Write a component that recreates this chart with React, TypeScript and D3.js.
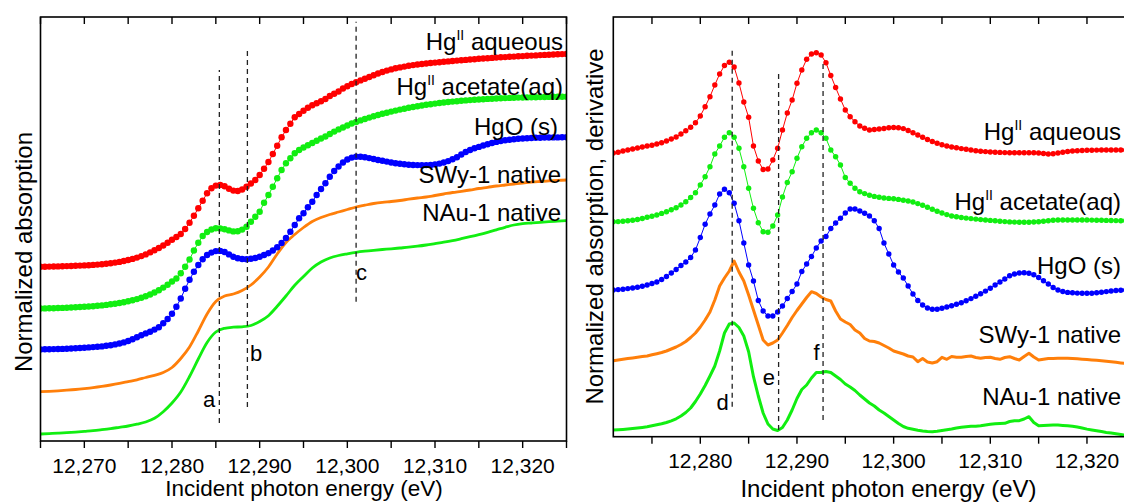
import * as d3 from "d3";

// ---- data: Hg L3-edge XANES, left = normalized absorption, right = derivative ----
// values are stacked (offset) intensities in arbitrary units, 0.5 eV steps unless noted

const LEFT_E0 = 12265;
const RIGHT_E0 = 12271;

// left panel, 0.5 eV steps from 12265 eV
const hgAqueousAbs = [
  1.742, 1.743, 1.744, 1.745, 1.746, 1.747, 1.749, 1.75, 1.752, 1.754,
  1.756, 1.758, 1.761, 1.764, 1.768, 1.773, 1.778, 1.784, 1.791, 1.8,
  1.81, 1.821, 1.834, 1.849, 1.866, 1.886, 1.907, 1.93, 1.955, 1.983,
  2.012,
  2.04, 2.07, 2.12, 2.183, 2.253, 2.327, 2.403, 2.477, 2.527, 2.554,
  2.56, 2.547, 2.522, 2.504, 2.5, 2.515, 2.542, 2.575, 2.61, 2.66,
  2.723, 2.79, 2.87, 2.953, 3.037, 3.11, 3.173, 3.237, 3.27, 3.302,
  3.332, 3.357, 3.378, 3.397, 3.42, 3.45, 3.472, 3.495, 3.525, 3.548,
  3.57, 3.588, 3.606, 3.623, 3.64, 3.658, 3.675, 3.69, 3.704, 3.716,
  3.727, 3.736, 3.744, 3.752, 3.759, 3.765, 3.77, 3.775, 3.78, 3.784,
  3.788, 3.792, 3.796, 3.8, 3.804, 3.808, 3.811, 3.815, 3.818, 3.822,
  3.825, 3.828, 3.831, 3.834, 3.837, 3.839, 3.842, 3.844, 3.847, 3.849,
  3.852, 3.854, 3.856, 3.859, 3.861, 3.863, 3.865, 3.867, 3.869, 3.871,
];
const hgAcetateAbs = [
  1.325, 1.326, 1.327, 1.328, 1.33, 1.331, 1.333, 1.335, 1.337, 1.34,
  1.342, 1.345, 1.348, 1.352, 1.356, 1.361, 1.367, 1.373, 1.38, 1.388,
  1.397, 1.407, 1.419, 1.432, 1.447, 1.465, 1.485, 1.508, 1.534, 1.563,
  1.595,
  1.625, 1.677, 1.743, 1.815, 1.905, 1.983, 2.05, 2.09, 2.115, 2.127,
  2.126, 2.118, 2.106, 2.096, 2.098, 2.114, 2.143, 2.193, 2.243, 2.293,
  2.383, 2.46, 2.543, 2.627, 2.71, 2.777, 2.827, 2.877, 2.91, 2.935,
  2.958, 2.98, 3.002, 3.025, 3.045, 3.07, 3.094, 3.116, 3.135, 3.155,
  3.175, 3.191, 3.206, 3.22, 3.234, 3.247, 3.26, 3.272, 3.283, 3.294,
  3.304, 3.314, 3.323, 3.332, 3.34, 3.348, 3.355, 3.362, 3.368, 3.374,
  3.38, 3.385, 3.39, 3.394, 3.398, 3.402, 3.406, 3.409, 3.412, 3.415,
  3.418, 3.421, 3.423, 3.425, 3.427, 3.429, 3.431, 3.433, 3.434, 3.435,
  3.436, 3.437, 3.438, 3.439, 3.44, 3.441, 3.442, 3.442, 3.443, 3.443,
];
const hgoAbs = [
  0.916, 0.917, 0.918, 0.919, 0.92, 0.921, 0.923, 0.925, 0.927, 0.93,
  0.933, 0.936, 0.939, 0.942, 0.946, 0.952, 0.958, 0.966, 0.975, 0.986,
  1.0, 1.018, 1.037, 1.057, 1.076, 1.093, 1.114, 1.138, 1.177, 1.22,
  1.272,
  1.343, 1.425, 1.522, 1.612, 1.693, 1.76, 1.817, 1.86, 1.884, 1.899,
  1.901, 1.89, 1.866, 1.843, 1.828, 1.82, 1.817, 1.822, 1.83, 1.843,
  1.86, 1.878, 1.905, 1.938, 1.98, 2.03, 2.093, 2.16, 2.227, 2.277,
  2.338, 2.393, 2.46, 2.52, 2.577, 2.643, 2.7, 2.745, 2.785, 2.815,
  2.834, 2.842, 2.843, 2.837, 2.829, 2.82, 2.81, 2.802, 2.794, 2.785,
  2.778, 2.772, 2.767, 2.763, 2.76, 2.759, 2.758, 2.759, 2.76, 2.766,
  2.774, 2.785, 2.799, 2.817, 2.838, 2.865, 2.89, 2.91, 2.927, 2.941,
  2.955, 2.968, 2.98, 2.991, 3.0, 3.007, 3.013, 3.018, 3.022, 3.025,
  3.028, 3.03, 3.032, 3.033, 3.034, 3.035, 3.036, 3.036, 3.037, 3.037,
];
// left panel clays, 1 eV steps from 12265 eV
const swyAbs = [
  0.493, 0.497, 0.502, 0.508, 0.515, 0.524, 0.534, 0.546, 0.56, 0.576,
  0.594, 0.612, 0.635, 0.657, 0.685, 0.735, 0.825, 0.94, 1.1, 1.27,
  1.395, 1.45, 1.47, 1.505, 1.56, 1.64, 1.74, 1.87, 1.985, 2.065,
  2.135, 2.195, 2.235, 2.265, 2.29, 2.315, 2.34, 2.358, 2.375, 2.387,
  2.395, 2.405, 2.418, 2.43, 2.44, 2.455, 2.47, 2.485, 2.497, 2.51,
  2.525, 2.537, 2.55, 2.56, 2.57, 2.58, 2.588, 2.595, 2.602, 2.607,
  2.61,
];
const nauAbs = [
  0.07, 0.074, 0.078, 0.083, 0.089, 0.096, 0.103, 0.113, 0.124, 0.137,
  0.15, 0.168, 0.19, 0.227, 0.293, 0.38, 0.49, 0.645, 0.82, 0.985,
  1.09, 1.127, 1.138, 1.142, 1.155, 1.195, 1.253, 1.347, 1.45, 1.557,
  1.645, 1.73, 1.79, 1.83, 1.855, 1.872, 1.887, 1.898, 1.907, 1.915,
  1.922, 1.93, 1.938, 1.948, 1.96, 1.974, 1.988, 2.004, 2.023, 2.043,
  2.064, 2.087, 2.112, 2.137, 2.16, 2.173, 2.18, 2.187, 2.193, 2.198,
  2.203,
];

// right panel (derivative), 0.5 eV steps from 12271 eV
const hgAqueousDer = [
  2.837, 2.845, 2.857, 2.867, 2.877, 2.887, 2.897, 2.907, 2.915, 2.927,
  2.94, 2.957, 2.977, 2.997, 3.027, 3.06, 3.094, 3.14, 3.207, 3.3,
  3.4, 3.517, 3.627, 3.712, 3.744, 3.697, 3.537, 3.347, 3.194, 2.907,
  2.757, 2.672, 2.677, 2.767, 2.884, 3.067, 3.237, 3.367, 3.534, 3.667,
  3.774, 3.827, 3.84, 3.817, 3.74, 3.612, 3.492, 3.377, 3.267, 3.2,
  3.15, 3.107, 3.084, 3.067, 3.072, 3.077, 3.082, 3.089, 3.092, 3.089,
  3.081, 3.062, 3.04, 3.017, 2.994, 2.972, 2.952, 2.935, 2.919, 2.907,
  2.897, 2.889, 2.881, 2.874, 2.867, 2.86, 2.855, 2.851, 2.847, 2.845,
  2.843, 2.841, 2.84, 2.84, 2.84, 2.84, 2.839, 2.839, 2.837, 2.832,
  2.827, 2.829, 2.837, 2.845, 2.852, 2.857, 2.86, 2.862, 2.864, 2.865,
  2.866, 2.867, 2.867, 2.867, 2.867, 2.867, 2.867, 2.867, 2.867,
];
const hgAcetateDer = [
  2.149, 2.151, 2.154, 2.159, 2.164, 2.172, 2.182, 2.194, 2.205, 2.217,
  2.233, 2.25, 2.269, 2.29, 2.317, 2.35, 2.392, 2.44, 2.517, 2.6,
  2.7, 2.827, 2.907, 2.994, 3.04, 2.994, 2.884, 2.7, 2.484, 2.284,
  2.14, 2.05, 2.044, 2.107, 2.217, 2.397, 2.542, 2.65, 2.784, 2.9,
  2.984, 3.04, 3.067, 3.04, 2.984, 2.867, 2.8, 2.717, 2.592, 2.534,
  2.484, 2.45, 2.431, 2.414, 2.403, 2.394, 2.387, 2.383, 2.379, 2.373,
  2.364, 2.357, 2.347, 2.331, 2.314, 2.294, 2.274, 2.254, 2.237, 2.221,
  2.207, 2.199, 2.192, 2.186, 2.181, 2.176, 2.171, 2.167, 2.163, 2.159,
  2.155, 2.151, 2.148, 2.146, 2.144, 2.144, 2.145, 2.147, 2.15, 2.154,
  2.159, 2.164, 2.167, 2.167, 2.167, 2.167, 2.167, 2.167, 2.167, 2.166,
  2.165, 2.164, 2.163, 2.162, 2.161, 2.16, 2.16, 2.159, 2.159,
];
const hgoDer = [
  1.467, 1.471, 1.475, 1.481, 1.487, 1.494, 1.505, 1.517, 1.532, 1.547,
  1.572, 1.602, 1.637, 1.672, 1.712, 1.747, 1.792, 1.867, 1.992, 2.124,
  2.227, 2.317, 2.427, 2.474, 2.44, 2.334, 2.16, 1.937, 1.717, 1.557,
  1.362, 1.257, 1.207, 1.207, 1.247, 1.307, 1.382, 1.452, 1.527, 1.652,
  1.727, 1.802, 1.887, 1.957, 2.002, 2.082, 2.137, 2.184, 2.237, 2.277,
  2.277, 2.257, 2.234, 2.207, 2.16, 2.082, 1.937, 1.827, 1.717, 1.647,
  1.587, 1.507, 1.427, 1.362, 1.317, 1.287, 1.275, 1.274, 1.284, 1.297,
  1.31, 1.325, 1.34, 1.359, 1.381, 1.404, 1.429, 1.456, 1.485, 1.517,
  1.547, 1.577, 1.609, 1.627, 1.637, 1.639, 1.634, 1.619, 1.592, 1.559,
  1.527, 1.492, 1.467, 1.452, 1.443, 1.439, 1.436, 1.434, 1.434, 1.435,
  1.439, 1.445, 1.451, 1.457, 1.462, 1.465, 1.467, 1.469, 1.47,
];
const swyDer = [
  0.76, 0.767, 0.774, 0.781, 0.787, 0.794, 0.801, 0.807, 0.819, 0.83,
  0.842, 0.857, 0.877, 0.897, 0.922, 0.952, 0.992, 1.037, 1.097, 1.167,
  1.247, 1.367, 1.507, 1.587, 1.657, 1.757, 1.647, 1.557, 1.417, 1.267,
  1.117, 0.967, 0.917, 0.937, 0.967, 1.037, 1.112, 1.192, 1.262, 1.327,
  1.392, 1.45, 1.432, 1.397, 1.372, 1.357, 1.257, 1.177, 1.147, 1.122,
  1.067, 1.037, 0.982, 0.957, 0.952, 0.937, 0.912, 0.887, 0.857, 0.842,
  0.827, 0.807, 0.797, 0.75, 0.782, 0.747, 0.737, 0.75, 0.794, 0.774,
  0.802, 0.794, 0.794, 0.802, 0.807, 0.792, 0.784, 0.792, 0.794, 0.782,
  0.774, 0.792, 0.8, 0.782, 0.767, 0.802, 0.834, 0.797, 0.767, 0.775,
  0.782, 0.783, 0.784, 0.784, 0.784, 0.782, 0.779, 0.775, 0.771, 0.767,
  0.764, 0.76, 0.755, 0.75, 0.744, 0.738, 0.732, 0.727, 0.722,
];
const nauDer = [
  0.067, 0.069, 0.072, 0.076, 0.081, 0.087, 0.093, 0.1, 0.109, 0.119,
  0.129, 0.142, 0.159, 0.179, 0.207, 0.242, 0.287, 0.352, 0.427, 0.512,
  0.607, 0.707, 0.857, 1.037, 1.127, 1.137, 1.092, 1.007, 0.85, 0.6,
  0.407, 0.237, 0.127, 0.077, 0.062, 0.092, 0.167, 0.267, 0.382, 0.472,
  0.517, 0.587, 0.642, 0.642, 0.652, 0.642, 0.607, 0.572, 0.527, 0.497,
  0.462, 0.417, 0.377, 0.337, 0.307, 0.267, 0.237, 0.202, 0.167, 0.132,
  0.102, 0.084, 0.075, 0.065, 0.057, 0.052, 0.05, 0.054, 0.062, 0.07,
  0.077, 0.087, 0.094, 0.1, 0.104, 0.105, 0.109, 0.117, 0.125, 0.129,
  0.132, 0.134, 0.152, 0.16, 0.16, 0.177, 0.2, 0.142, 0.11, 0.112,
  0.114, 0.117, 0.116, 0.113, 0.109, 0.105, 0.097, 0.087, 0.076, 0.067,
  0.059, 0.051, 0.043, 0.037, 0.029, 0.022, 0.015, 0.009, 0.003,
];

const seriesNames = ["Hg^II aqueous", "Hg^II acetate(aq)", "HgO (s)", "SWy-1 native", "NAu-1 native"];

// feature energies (eV) and the y extent of their dashed guides
const leftFeatures = ["a", "b", "c"];
const leftFeatureE = [12285.4, 12288.6, 12301.0];
const leftFeatureSpan = [[0.18, 3.71], [0.34, 3.933], [1.393, 4.193]];
const rightFeatures = ["d", "e", "f"];
const rightFeatureE = [12283.3, 12288.1, 12292.7];
const rightFeatureSpan = [[0.3, 3.884], [0.067, 3.667], [0.167, 3.767]];

const FONT = "'Liberation Sans', Arial, Helvetica, sans-serif";
const RED = "#ff0000";
const GREEN = "#11ee11";
const BLUE = "#0000ff";
const ORANGE = "#ff7f0a";

type S = { values: number[]; e0: number; step: number; color: string; dots: boolean };

function pts(s: S): [number, number][] {
  return s.values.map((v, i) => [s.e0 + i * s.step, v]);
}

function SeriesLabel({ name, x, y, anchor }: { name: string; x: number; y: number; anchor: string }) {
  const parts = name.split("^II");
  if (parts.length === 1) {
    return (
      <text x={x} y={y} fontSize={24} textAnchor={anchor}>
        {name}
      </text>
    );
  }
  return (
    <text x={x} y={y} fontSize={24} textAnchor={anchor}>
      {parts[0]}
      <tspan dy={-10} fontSize={14}>II</tspan>
      <tspan dy={10}>{parts[1]}</tspan>
    </text>
  );
}

function Panel(props: {
  x: d3.ScaleLinear<number, number>;
  y: d3.ScaleLinear<number, number>;
  series: S[];
  dotR: number;
  lineW: number;
  smoothLines: boolean;
  tickStart: number;
  labelTicks: number[];
  feats: string[];
  featE: number[];
  featSpan: number[][];
  featLabel: { y: number; dx: number; anchor: string }[];
  labelPos: { x: number; y: number; anchor: string }[];
  tickLabelY: number;
  xTitle: { x: number; y: number; size: number };
  yTitle: { text: string; x: number; y: number; size: number };
  clipId: string;
}) {
  const { x, y } = props;
  const [x0, x1] = x.range();
  const [yb, yt] = y.range();
  const line = d3.line<[number, number]>().x((d) => x(d[0])).y((d) => y(d[1]));
  const smooth = d3
    .line<[number, number]>()
    .x((d) => x(d[0]))
    .y((d) => y(d[1]))
    .curve(d3.curveMonotoneX);
  const ticks = d3.range(props.tickStart, x.domain()[1] + 0.01, 5);
  const fmt = d3.format(",");

  return (
    <g>
      <defs>
        <clipPath id={props.clipId}>
          <rect x={x0} y={yt} width={x1 - x0} height={yb - yt} />
        </clipPath>
      </defs>
      <g clipPath={`url(#${props.clipId})`}>
        {props.series.map((s, i) => {
          const p = pts(s);
          if (!s.dots) {
            return (
              <path
                key={i}
                d={(props.smoothLines ? smooth : line)(p) || ""}
                fill="none"
                stroke={s.color}
                strokeWidth={props.lineW}
                strokeLinejoin="round"
              />
            );
          }
          return (
            <g key={i}>
              <path d={line(p) || ""} fill="none" stroke={s.color} strokeWidth={1} />
              {p.map((d, j) => (
                <circle key={j} cx={x(d[0])} cy={y(d[1])} r={props.dotR} fill={s.color} />
              ))}
            </g>
          );
        })}
      </g>

      {props.feats.map((f, i) => (
        <g key={f}>
          <line
            x1={x(props.featE[i])}
            x2={x(props.featE[i])}
            y1={y(props.featSpan[i][0])}
            y2={y(props.featSpan[i][1])}
            stroke="#222"
            strokeWidth={1.3}
            strokeDasharray="5,4"
          />
          <text
            x={x(props.featE[i]) + props.featLabel[i].dx}
            y={y(props.featLabel[i].y)}
            fontSize={22}
            textAnchor={props.featLabel[i].anchor}
          >
            {f}
          </text>
        </g>
      ))}

      {seriesNames.map((n, i) => (
        <SeriesLabel key={n} name={n} {...props.labelPos[i]} />
      ))}

      <rect x={x0} y={yt} width={x1 - x0} height={yb - yt} fill="none" stroke="#000" strokeWidth={1.6} />
      {ticks.map((t) => (
        <g key={t}>
          <line x1={x(t)} x2={x(t)} y1={yb} y2={yb + 7} stroke="#000" strokeWidth={1.4} />
          <line x1={x(t)} x2={x(t)} y1={yt} y2={yt + 7} stroke="#000" strokeWidth={1.4} />
        </g>
      ))}
      {props.labelTicks.map((t) => (
        <text key={t} x={x(t)} y={props.tickLabelY} fontSize={21} textAnchor="middle">
          {fmt(t)}
        </text>
      ))}
      <text x={props.xTitle.x} y={props.xTitle.y} fontSize={props.xTitle.size} textAnchor="middle">
        Incident photon energy (eV)
      </text>
      <text
        transform={`translate(${props.yTitle.x},${props.yTitle.y}) rotate(-90)`}
        fontSize={props.yTitle.size}
        textAnchor="middle"
      >
        {props.yTitle.text}
      </text>
    </g>
  );
}

export default function App() {
  const xL = d3.scaleLinear().domain([12265, 12325]).range([40.5, 566.5]);
  const yL = d3.scaleLinear().domain([0, 4.24]).range([441, 17]);
  const xR = d3.scaleLinear().domain([12271, 12325]).range([613.3, 1135.3]);
  const yR = d3.scaleLinear().domain([0, 4.197]).range([436.7, 17]);

  const leftSeries: S[] = [
    { values: nauAbs, e0: LEFT_E0, step: 1, color: GREEN, dots: false },
    { values: swyAbs, e0: LEFT_E0, step: 1, color: ORANGE, dots: false },
    { values: hgoAbs, e0: LEFT_E0, step: 0.5, color: BLUE, dots: true },
    { values: hgAcetateAbs, e0: LEFT_E0, step: 0.5, color: GREEN, dots: true },
    { values: hgAqueousAbs, e0: LEFT_E0, step: 0.5, color: RED, dots: true },
  ];
  const rightSeries: S[] = [
    { values: nauDer, e0: RIGHT_E0, step: 0.5, color: GREEN, dots: false },
    { values: swyDer, e0: RIGHT_E0, step: 0.5, color: ORANGE, dots: false },
    { values: hgoDer, e0: RIGHT_E0, step: 0.5, color: BLUE, dots: true },
    { values: hgAcetateDer, e0: RIGHT_E0, step: 0.5, color: GREEN, dots: true },
    { values: hgAqueousDer, e0: RIGHT_E0, step: 0.5, color: RED, dots: true },
  ];

  return (
    <svg
      width={1124}
      height={502}
      style={{ position: "absolute", left: 0, top: 0, background: "#fff" }}
      fontFamily={FONT}
    >
      <Panel
        x={xL}
        y={yL}
        series={leftSeries}
        dotR={3.2}
        lineW={2.8}
        smoothLines={true}
        tickStart={12265}
        labelTicks={[12270, 12280, 12290, 12300, 12310, 12320]}
        feats={leftFeatures}
        featE={leftFeatureE}
        featSpan={leftFeatureSpan}
        featLabel={[
          { y: 0.343, dx: -4, anchor: "end" },
          { y: 0.8, dx: 2.5, anchor: "start" },
          { y: 1.61, dx: 0, anchor: "start" },
        ]}
        labelPos={[
          { x: 563, y: 50, anchor: "end" },
          { x: 563, y: 95, anchor: "end" },
          { x: 558, y: 135, anchor: "end" },
          { x: 561, y: 183, anchor: "end" },
          { x: 561, y: 220.5, anchor: "end" },
        ]}
        tickLabelY={472.5}
        xTitle={{ x: 304, y: 496, size: 22.5 }}
        yTitle={{ text: "Normalized absorption", x: 32, y: 252, size: 24 }}
        clipId="clipL"
      />
      <Panel
        x={xR}
        y={yR}
        series={rightSeries}
        dotR={2.7}
        lineW={3}
        smoothLines={false}
        tickStart={12275}
        labelTicks={[12280, 12290, 12300, 12310, 12320]}
        feats={rightFeatures}
        featE={rightFeatureE}
        featSpan={rightFeatureSpan}
        featLabel={[
          { y: 0.267, dx: -3.5, anchor: "end" },
          { y: 0.517, dx: -3.5, anchor: "end" },
          { y: 0.767, dx: -3.5, anchor: "end" },
        ]}
        labelPos={[
          { x: 1121, y: 140, anchor: "end" },
          { x: 1121, y: 210, anchor: "end" },
          { x: 1121, y: 274, anchor: "end" },
          { x: 1121, y: 343.3, anchor: "end" },
          { x: 1121, y: 405, anchor: "end" },
        ]}
        tickLabelY={468}
        xTitle={{ x: 888.5, y: 497, size: 24 }}
        yTitle={{ text: "Normalized absorption, derivative", x: 603, y: 226.5, size: 24 }}
        clipId="clipR"
      />
    </svg>
  );
}
